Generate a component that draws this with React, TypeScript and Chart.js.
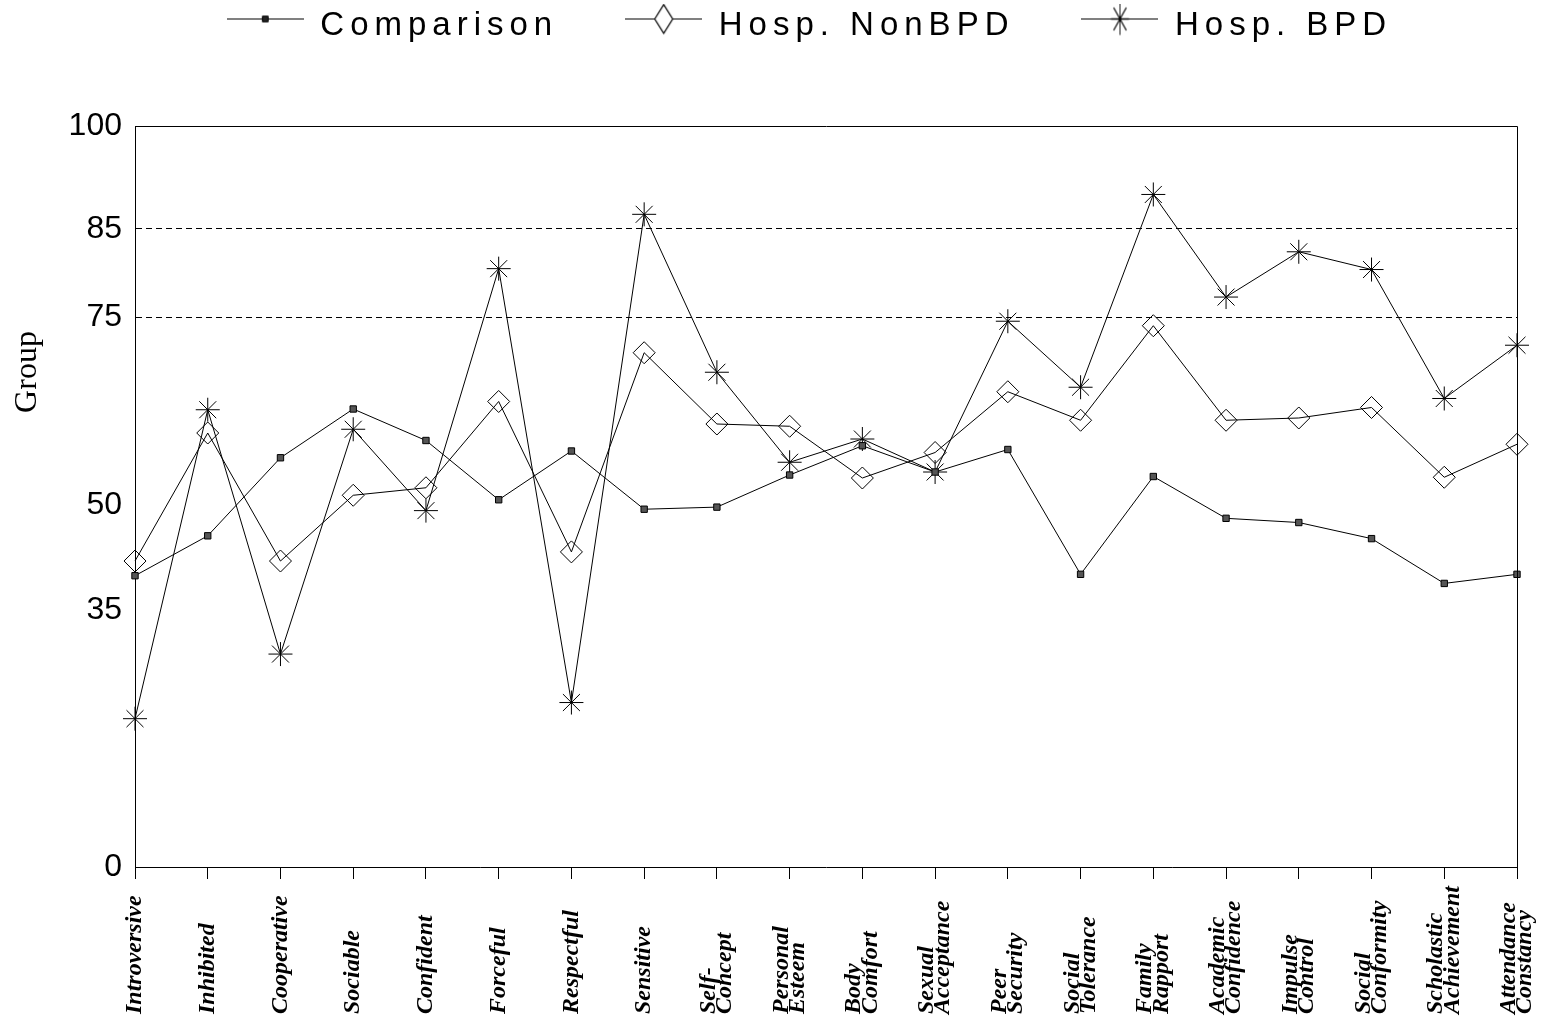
import React, { useEffect, useRef } from 'react';
import { Chart, registerables, CategoryScale, LinearScale } from 'chart.js';
import { drawPoint } from 'chart.js/helpers';

// ---------------- data ----------------
const CATEGORIES: (string | string[])[] = [
  'Introversive',
  'Inhibited',
  'Cooperative',
  'Sociable',
  'Confident',
  'Forceful',
  'Respectful',
  'Sensitive',
  ['Self-', 'Concept'],
  ['Personal', 'Esteem'],
  ['Body', 'Comfort'],
  ['Sexual', 'Acceptance'],
  ['Peer', 'Security'],
  ['Social', 'Tolerance'],
  ['Family', 'Rapport'],
  ['Academic', 'Confidence'],
  ['Impulse', 'Control'],
  ['Social', 'Conformity'],
  ['Scholastic', 'Achievement'],
  ['Attendance', 'Constancy'],
];

const COMPARISON = [39.9, 45.6, 56.3, 62.8, 58.6, 50.7, 57.2, 49.4, 49.7, 54.0, 57.9, 54.4, 57.4, 40.1, 53.8, 48.1, 47.5, 45.2, 38.8, 40.1];
const HOSP_NONBPD = [42.0, 59.6, 42.0, 51.3, 52.3, 63.8, 43.3, 70.3, 60.8, 60.5, 53.6, 57.0, 65.1, 61.3, 73.9, 61.3, 61.6, 63.0, 53.7, 58.1];
const HOSP_BPD = [20.2, 62.7, 29.0, 60.1, 49.2, 80.5, 22.4, 87.1, 67.7, 55.7, 58.8, 54.4, 74.5, 65.7, 90.0, 77.3, 82.4, 80.4, 64.2, 71.3];

const SERIES_LABELS = ['Comparison', 'Hosp. NonBPD', 'Hosp. BPD'];

// y axis: tick values and where each sits along the axis (fraction of height)
const Y_TICK_VALUES = [0, 35, 50, 75, 85, 100];
const Y_TICK_FRACTIONS = [0, 0.3468, 0.4885, 0.7416, 0.8614, 1];
const CUTOFF_LINES = [75, 85];
const Y_TITLE = 'Group';

// ---------------- layout constants ----------------
const W = 1555;
const H = 1026;
const PAD_RIGHT = 38;
const PAD_TOP = -58;
const PLOT_LEFT = 135;
const PLOT_TOP = 126;
const PLOT_BOTTOM = 867;
const LEGEND_TRACKING = '6px';
const LEGEND_SHIFT = 102;
const X_LABEL_START_GAP = 147; // distance from axis line to where vertical labels begin

function valueToFraction(v: number) {
  const V = Y_TICK_VALUES, F = Y_TICK_FRACTIONS;
  let i = 0;
  while (i < V.length - 2 && v > V[i + 1]) i++;
  return F[i] + ((v - V[i]) * (F[i + 1] - F[i])) / (V[i + 1] - V[i]);
}
function fractionToValue(f: number) {
  const V = Y_TICK_VALUES, F = Y_TICK_FRACTIONS;
  let i = 0;
  while (i < F.length - 2 && f > F[i + 1]) i++;
  return V[i] + ((f - F[i]) * (V[i + 1] - V[i])) / (F[i + 1] - F[i]);
}

// Piecewise-linear value axis (base-rate style spacing)
class BaseRateScale extends (LinearScale as any) {
  static id = 'baseRate';
  static defaults = (LinearScale as any).defaults;
  getPixelForValue(value: any) {
    if (value === null || value === undefined || isNaN(value)) return NaN;
    return (this as any).getPixelForDecimal(valueToFraction(+value));
  }
  getValueForPixel(pixel: number) {
    return fractionToValue((this as any).getDecimalForPixel(pixel));
  }
}

// Category axis whose vertical labels start at a common baseline
class StartCategoryScale extends (CategoryScale as any) {
  static id = 'startCategory';
  static defaults = (CategoryScale as any).defaults;
  _getXAxisLabelAlignment() {
    if ((this as any).labelRotation) return 'left';
    return super._getXAxisLabelAlignment();
  }
  _computeLabelItems(chartArea: any) {
    const items = super._computeLabelItems(chartArea);
    const top = (this as any).top;
    for (const it of items) {
      const n = Array.isArray(it.label) ? it.label.length : 1;
      it.textOffset -= ((n - 1) * it.font.lineHeight) / 2;
      if (it.options && it.options.translation) {
        it.options.translation = [it.options.translation[0], top + X_LABEL_START_GAP];
      }
    }
    return items;
  }
}

Chart.register(...registerables, BaseRateScale as any, StartCategoryScale as any);

function makeGlyph(style: string, radius: number, fill: string, sx: number, sy: number) {
  const c = document.createElement('canvas');
  c.width = 77;
  c.height = 44;
  const g = c.getContext('2d') as CanvasRenderingContext2D;
  g.strokeStyle = '#000';
  g.lineWidth = 1;
  g.beginPath();
  g.moveTo(0, 15.5);
  g.lineTo(77, 15.5);
  g.stroke();
  g.save();
  g.translate(38.5, 15.5);
  g.scale(sx, sy);
  g.fillStyle = fill;
  g.strokeStyle = '#000';
  g.lineWidth = 1;
  drawPoint(g as any, { pointStyle: style as any, radius, borderWidth: 1, rotation: 0 } as any, 0, 0);
  g.restore();
  return c;
}

const legendTracking = {
  id: 'legendTracking',
  beforeUpdate(chart: any) {
    const lg = chart.legend;
    if (!lg || lg._trackingWrapped) return;
    lg._trackingWrapped = true;
    const fit0 = lg.fit;
    const draw0 = lg.draw;
    lg.fit = function (this: any) {
      const c = this.ctx;
      c.save();
      c.letterSpacing = LEGEND_TRACKING;
      fit0.call(this);
      c.restore();
      this.height = PLOT_TOP - PAD_TOP;
    };
    lg.draw = function (this: any, ...args: any[]) {
      const c = this.ctx;
      c.save();
      c.letterSpacing = LEGEND_TRACKING;
      const left0 = this.left;
      this.left = left0 + LEGEND_SHIFT;
      draw0.apply(this, args);
      this.left = left0;
      c.restore();
    };
  },
};

const plotFrame = {
  id: 'plotFrame',
  afterDatasetsDraw(chart: any) {
    const { ctx, chartArea } = chart;
    const a = (p: number) => Math.round(p - 0.5) + 0.5;
    ctx.save();
    ctx.strokeStyle = '#000';
    ctx.lineWidth = 1;
    ctx.beginPath();
    ctx.moveTo(a(chartArea.left), a(chartArea.top));
    ctx.lineTo(a(chartArea.right), a(chartArea.top));
    ctx.lineTo(a(chartArea.right), a(chartArea.bottom));
    ctx.stroke();
    ctx.restore();
  },
};

const yTitle = {
  id: 'yTitle',
  afterDraw(chart: any) {
    const ctx = chart.ctx;
    ctx.save();
    ctx.translate(36, 372);
    ctx.rotate(-Math.PI / 2);
    ctx.font = '32px "Liberation Serif"';
    ctx.fillStyle = '#000';
    ctx.textAlign = 'center';
    ctx.textBaseline = 'alphabetic';
    ctx.fillText(Y_TITLE, 0, 0);
    ctx.restore();
  },
};

export default function App() {
  const ref = useRef<HTMLCanvasElement>(null);

  useEffect(() => {
    const canvas = ref.current;
    if (!canvas) return;
    const glyphs = [
      makeGlyph('rect', 4, '#222', 1, 1),
      makeGlyph('rectRot', 9, '#fff', 1, 1.6),
      makeGlyph('star', 10, 'rgba(0,0,0,0)', 0.9, 1.6),
    ];
    const common = {
      borderColor: '#000',
      borderWidth: 1,
      pointBorderColor: '#000',
      pointBorderWidth: 1,
      fill: false,
      tension: 0,
      clip: false as any,
    };
    const chart = new Chart(canvas, {
      type: 'line',
      data: {
        labels: CATEGORIES as any,
        datasets: [
          { ...common, label: SERIES_LABELS[0], data: COMPARISON, pointStyle: 'rect', pointRadius: 4.5, pointBackgroundColor: '#555' },
          { ...common, label: SERIES_LABELS[1], data: HOSP_NONBPD, pointStyle: 'rectRot', pointRadius: 11, pointBackgroundColor: 'rgba(0,0,0,0)' },
          { ...common, label: SERIES_LABELS[2], data: HOSP_BPD, pointStyle: 'star', pointRadius: 12, pointBackgroundColor: 'rgba(0,0,0,0)' },
        ] as any,
      },
      options: {
        responsive: false,
        devicePixelRatio: 1,
        animation: false,
        events: [],
        layout: { padding: { left: 0, right: PAD_RIGHT, top: PAD_TOP, bottom: 0 } },
        plugins: {
          tooltip: { enabled: false },
          legend: {
            display: true,
            position: 'top',
            align: 'center',
            labels: {
              usePointStyle: true,
              pointStyleWidth: 77,
              padding: 67,
              color: '#000',
              font: { family: 'Liberation Sans', size: 33 },
              generateLabels: (ch: any) =>
                ch.data.datasets.map((ds: any, i: number) => ({
                  text: ds.label,
                  pointStyle: glyphs[i],
                  fillStyle: '#000',
                  strokeStyle: '#000',
                  lineWidth: 1,
                  hidden: false,
                  datasetIndex: i,
                  fontColor: '#000',
                })),
            },
          },
        },
        scales: {
          x: {
            type: 'startCategory' as any,
            offset: false,
            grid: { display: true, drawOnChartArea: false, drawTicks: true, tickLength: 12, color: '#000', tickColor: '#000', lineWidth: 1 },
            border: { display: true, color: '#000', width: 1 },
            ticks: {
              autoSkip: false,
              minRotation: 90,
              maxRotation: 90,
              padding: 0,
              color: '#000',
              font: { family: 'Liberation Serif', size: 24, style: 'italic', weight: 'bold', lineHeight: 0.68 },
            },
            afterFit: (s: any) => {
              s.height = H - PLOT_BOTTOM;
            },
          } as any,
          y: {
            type: 'baseRate' as any,
            min: 0,
            max: 100,
            afterBuildTicks: (s: any) => {
              s.ticks = Y_TICK_VALUES.map((v) => ({ value: v }));
            },
            grid: {
              drawTicks: false,
              lineWidth: 1,
              color: (c: any) => (c.tick && CUTOFF_LINES.includes(c.tick.value) ? '#000' : 'rgba(0,0,0,0)'),
            },
            border: { display: true, color: '#000', width: 1, dash: [6, 4] },
            ticks: { padding: 13, color: '#000', font: { family: 'Liberation Sans', size: 32 } },
            afterFit: (s: any) => {
              s.width = PLOT_LEFT;
            },
          } as any,
        },
      } as any,
      plugins: [legendTracking, plotFrame, yTitle] as any,
    });
    return () => chart.destroy();
  }, []);

  return (
    <div style={{ position: 'absolute', left: 0, top: 0, width: W, height: H, background: '#fff' }}>
      <canvas ref={ref} width={W} height={H} style={{ display: 'block', width: W, height: H }} />
    </div>
  );
}
